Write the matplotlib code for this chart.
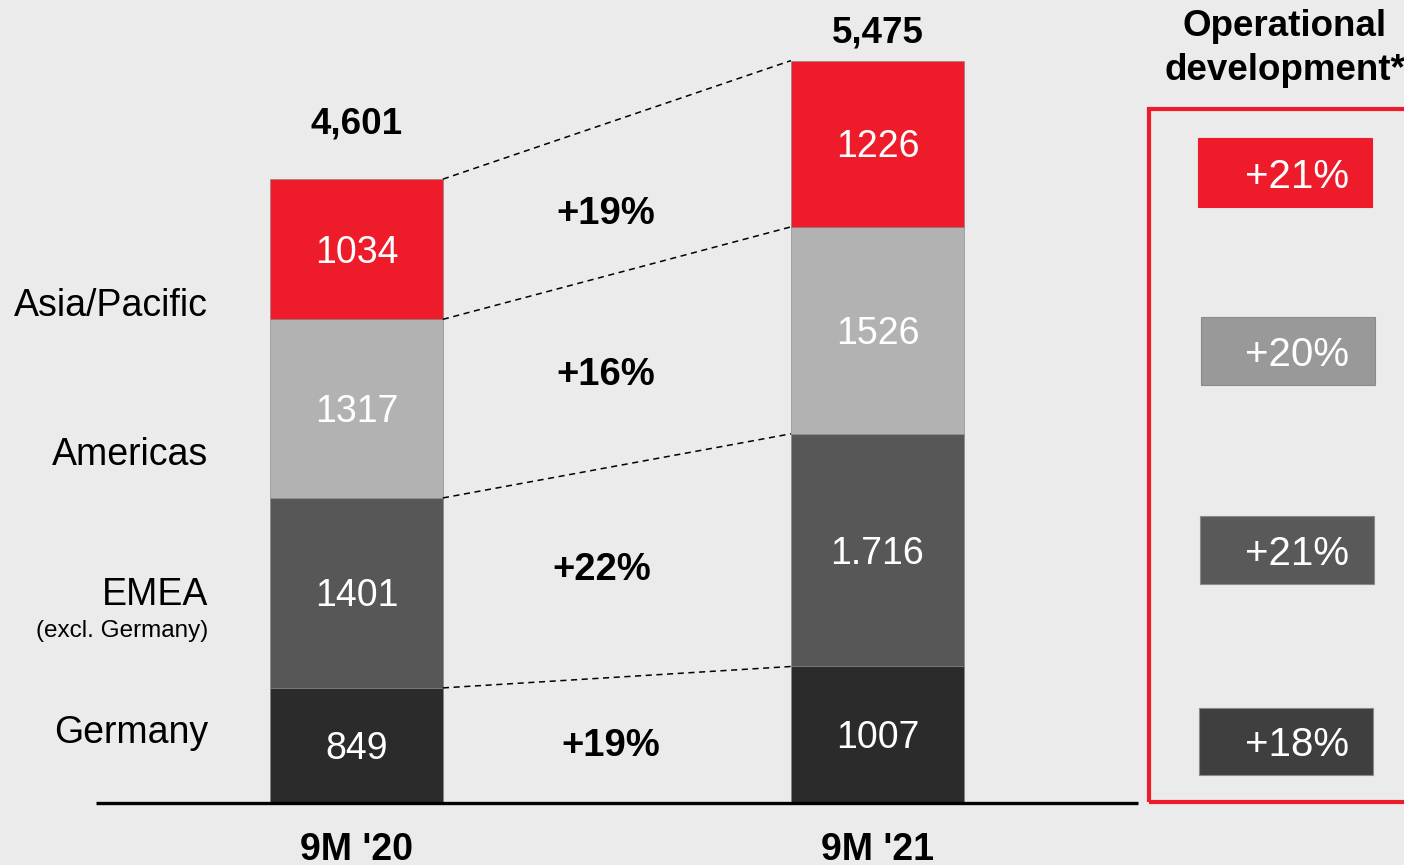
import matplotlib.pyplot as plt
from matplotlib.patches import Rectangle

# Daten (Umsatz je Region, von unten nach oben)
periods = ["9M '20", "9M '21"]
regions = ["Germany", "EMEA", "Americas", "Asia/Pacific"]
values_20 = [849, 1401, 1317, 1034]
values_21 = [1007, 1716, 1526, 1226]
labels_20 = ["849", "1401", "1317", "1034"]
labels_21 = ["1007", "1.716", "1526", "1226"]
totals = ["4,601", "5,475"]
growth = ["+19%", "+22%", "+16%", "+19%"]
op_dev = ["+18%", "+21%", "+20%", "+21%"]

colors = ["#2b2b2b", "#575757", "#b2b2b2", "#ee1c2b"]
op_colors = ["#3f3f3f", "#595959", "#999999", "#ee1c2b"]
bg = "#ebebeb"

W, H = 1404, 865
plt.rcParams['font.family'] = ['Liberation Sans', 'DejaVu Sans']


def px(x, y):
    """pixel (origen a dalt a l'esquerra) -> fraccio de figura"""
    return x / W, 1 - y / H


fig = plt.figure(figsize=(W / 100, H / 100), dpi=100)
fig.patch.set_facecolor(bg)
ax = fig.add_axes([0, 0, 1, 1])
ax.set_facecolor("none")
ax.axis("off")
ax.set_xlim(-0.684, 2.0106)
ax.set_ylim(-457, 5922)

x = [0, 1]
w = 0.332
bottoms = [0, 0]
tops = []
for i in range(len(regions)):
    vals = [values_20[i], values_21[i]]
    ax.bar(x, vals, width=w, bottom=bottoms, color=colors[i],
           edgecolor="#808080", linewidth=0.4)
    for j, lab in enumerate([labels_20[i], labels_21[i]]):
        ax.annotate(lab, (x[j], bottoms[j] + vals[j] / 2), xytext=(0, -2.5),
                    textcoords="offset points", ha="center", va="center",
                    color="white", fontsize=27)
    bottoms = [bottoms[0] + vals[0], bottoms[1] + vals[1]]
    tops.append(list(bottoms))

# linies discontinues entre barres
for t in tops:
    ax.plot([w / 2, 1 - w / 2], t, color="black", lw=1.1, ls=(0, (4, 3)))

# linia base
ax.plot([-0.5, 1.5], [0, 0], color="black", lw=2.4, solid_capstyle="butt")

# totals
ax.annotate(totals[0], (0, bottoms[0]), xytext=(0, 40), textcoords="offset points",
            ha="center", va="center", fontsize=26.5, fontweight="bold")
ax.annotate(totals[1], (1, bottoms[1]), xytext=(0, 20), textcoords="offset points",
            ha="center", va="center", fontsize=26.5, fontweight="bold")

# periodes
for j, p in enumerate(periods):
    ax.annotate(p, (x[j], 0), xytext=(0, -33.5), textcoords="offset points",
                ha="center", va="center", fontsize=27, fontweight="bold")

# etiquetes de regio
label_y = [733, 595, 455, 306]
for name, y in zip(regions, label_y):
    fig.text(*px(208, y), name, ha="right", va="center", fontsize=27)
fig.text(*px(208, 631), "(excl. Germany)", ha="right", va="center", fontsize=17.5)

# creixement mig
growth_pos = [(611, 746), (602, 570), (606, 375), (606, 214)]
for g, (gx, gy) in zip(growth, growth_pos):
    fig.text(*px(gx, gy), g, ha="center", va="center", fontsize=27.5,
             fontweight="bold")

# panell dret
fig.text(*px(1285, 27), "Operational", ha="center", va="center",
         fontsize=26.5, fontweight="bold")
fig.text(*px(1285, 71), "development*", ha="center", va="center",
         fontsize=26.5, fontweight="bold")
x0, y0 = px(1149, 802)
fig.patches.append(Rectangle((x0, y0), (1420 - 1149) / W, (802 - 109) / H,
                             transform=fig.transFigure, fill=False,
                             edgecolor="#ee1c2b", lw=3, clip_on=False))
boxes = [(1199, 708, 775), (1200, 516, 584), (1201, 317, 385), (1198, 138, 207)]
for val, col, (bx, by0, by1) in zip(op_dev, op_colors, boxes):
    rx, ry = px(bx, by1)
    fig.patches.append(Rectangle((rx, ry), 174 / W, (by1 - by0) / H,
                                 transform=fig.transFigure, facecolor=col,
                                 edgecolor="#8a8a8a" if col != op_colors[3] else col,
                                 lw=0.8))
    fig.text(*px(1297, (by0 + by1) / 2 + 4), val, ha="center", va="center",
             color="white", fontsize=29)

fig.savefig("out.png", dpi=100, facecolor=bg)
